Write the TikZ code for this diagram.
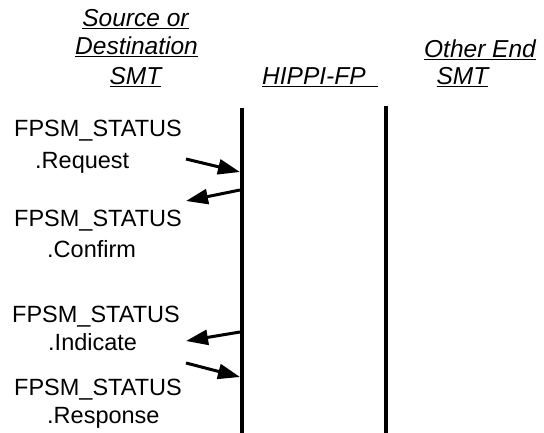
\documentclass[tikz,border=0pt]{standalone}
\usepackage{fontspec}
\setmainfont{Liberation Sans}
\usetikzlibrary{arrows.meta}
\begin{document}
\begin{tikzpicture}[x=1pt,y=-1pt,
  lbl/.style={inner sep=0pt, anchor=base west, font=\fontsize{23.5}{28}\selectfont},
  hdr/.style={inner sep=0pt, anchor=base, font=\fontsize{24.5}{29}\selectfont\itshape},
  life/.style={line width=4pt},
  msg/.style={line width=3pt, -{Triangle[length=22pt,width=15pt]}}]
\useasboundingbox (0,0) rectangle (544,433);
% headers
\node[hdr] (h1) at (135.5,27) {\underline{Source or}};
\node[hdr] (h2) at (136.5,55) {\underline{Destination}};
\node[hdr] (h3) at (135.5,85) {\underline{SMT}};
\node[hdr, anchor=base west] (h4) at (262,85) {\underline{HIPPI-FP\hspace{12pt}}};
\node[hdr] (h5) at (480,58) {\underline{Other End}};
\node[hdr] (h6) at (462.5,85) {\underline{SMT}};
% lifelines
\coordinate (l1top) at (242,108);
\coordinate (l1bot) at (242,433);
\coordinate (l2top) at (386,106);
\coordinate (l2bot) at (386,433);
\draw[life] (l1top) -- (l1bot);
\draw[life] (l2top) -- (l2bot);
% labels
\node[lbl] (a1) at (14,137) {FPSM\_STATUS};
\node[lbl] (a2) at (35,169) {.Request};
\node[lbl] (b1) at (14,226) {FPSM\_STATUS};
\node[lbl] (b2) at (47,258) {.Confirm};
\node[lbl] (c1) at (12,322) {FPSM\_STATUS};
\node[lbl] (c2) at (48,350) {.Indicate};
\node[lbl] (d1) at (14,395) {FPSM\_STATUS};
\node[lbl] (d2) at (47,423) {.Response};
% message arrows
\coordinate (rqs) at (186,159);
\coordinate (rqe) at (240,172);
\coordinate (cfs) at (240,190);
\coordinate (cfe) at (186,201);
\coordinate (ins) at (240,332);
\coordinate (ine) at (186,341);
\coordinate (rss) at (186,363);
\coordinate (rse) at (240,377);
\draw[msg] (rqs) -- (rqe);
\draw[msg] (cfs) -- (cfe);
\draw[msg] (ins) -- (ine);
\draw[msg] (rss) -- (rse);
\end{tikzpicture}
\end{document}
